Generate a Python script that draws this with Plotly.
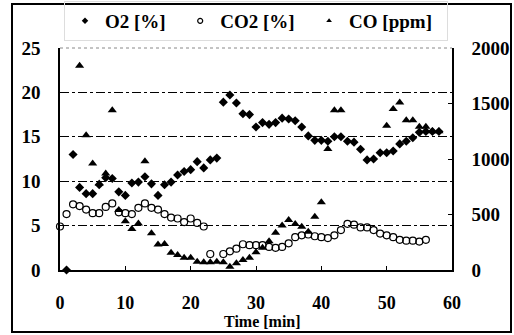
import plotly.graph_objects as go

# ---- data ----
o2_time = list(range(1, 59))
o2_vals = [0, 13, 9.3, 8.6, 8.6, 9.6, 10.4, 10.3, 8.8, 8.4,
           9.8, 9.9, 10.5, 9.7, 8.4, 9.6, 9.9, 10.7, 11.1, 11.3,
           12.2, 11.5, 12.4, 12.6, 18.9, 19.7, 18.8, 17.6, 17.5, 16.1,
           16.6, 16.4, 16.6, 17.1, 17.0, 16.8, 16.1, 15.1, 14.6, 14.6,
           14.5, 15.0, 15.0, 14.5, 14.4, 13.6, 12.4, 12.5, 13.2, 13.2,
           13.4, 14.2, 14.5, 14.9, 15.5, 15.6, 15.6, 15.6]

co2_time = list(range(0, 24)) + list(range(25, 57))
co2_vals = [4.9, 6.3, 7.4, 7.2, 6.8, 6.4, 6.4, 7.1, 7.5, 6.5,
            6.4, 6.3, 7.0, 7.5, 7.0, 6.8, 6.3, 5.9, 5.8, 5.4,
            5.8, 5.3, 4.9, 1.8,
            1.8, 2.1, 2.4, 2.9, 2.8, 2.8, 2.8, 2.6, 2.5, 2.6,
            3.0, 3.7, 3.9, 4.0, 3.8, 3.7, 3.6, 3.9, 4.5, 5.2,
            5.1, 4.8, 4.8, 4.5, 4.1, 3.9, 3.7, 3.4, 3.3, 3.3,
            3.2, 3.4]

co_time = list(range(3, 44)) + list(range(50, 59))
co_vals = [1840, 1215, 960, 780, 870, 1440, 540, 440, 370, 420,
           980, 330, 230, 235, 155, 135, 110, 110, 75, 70,
           70, 75, 70, 30, 60, 90, 110, 160, 200, 260,
           335, 400, 450, 415, 390, 345, 480, 610, 1090, 1440,
           1440,
           1300, 1450, 1510, 1350, 1350, 1290, 1290, 1250, 1250]

series_names = ["O2 [%]", "CO2 [%]", "CO [ppm]"]
x_ticks = [0, 10, 20, 30, 40, 50, 60]
y_left_ticks = [0, 5, 10, 15, 20, 25]
y_right_ticks = [0, 500, 1000, 1500, 2000]
x_title = "Time [min]"

FONT = "Liberation Serif"
NB = "\u00a0"

W, H = 514, 335
L, R, T, B = 60, 452, 48, 270


def px(x):
    return (x - L) / (R - L)


def py(y):
    return (B - y) / (B - T)


styles = [
    dict(symbol="diamond", color="black"),
    dict(symbol="circle-open", color="black", line=dict(width=1.2)),
    dict(symbol="triangle-up", color="black"),
]
sizes = [7, 7, 8]

fig = go.Figure()
fig.add_trace(go.Scatter(x=o2_time, y=o2_vals, mode="markers", showlegend=False,
                         marker=dict(size=sizes[0], **styles[0]), cliponaxis=False))
fig.add_trace(go.Scatter(x=co2_time, y=co2_vals, mode="markers", showlegend=False,
                         marker=dict(size=sizes[1], **styles[1]), cliponaxis=False))
fig.add_trace(go.Scatter(x=co_time, y=co_vals, mode="markers", showlegend=False, yaxis="y2",
                         marker=dict(size=sizes[2], **styles[2]), cliponaxis=False))
# legend entries with small symbols, as in the original
for name, st in zip(series_names, styles):
    fig.add_trace(go.Scatter(x=[None], y=[None], mode="markers",
                             name=f"<b>{name}</b>{NB * 2}",
                             marker=dict(size=5, **st)))

fig.update_layout(
    width=W, height=H,
    margin=dict(l=L, r=W - R, t=T, b=H - B, pad=0, autoexpand=False),
    paper_bgcolor="white", plot_bgcolor="white",
    font=dict(family=FONT, size=18, color="black"),
    showlegend=True,
    legend=dict(orientation="h", x=0.5, xanchor="center", y=py(21), yanchor="middle",
                font=dict(family=FONT, size=19, color="black"),
                bgcolor="rgba(0,0,0,0)", bordercolor="#dddddd", borderwidth=1,
                itemsizing="trace"),
    xaxis=dict(range=[0, 60], tickvals=x_ticks, ticktext=[f"<b>{v}</b>" for v in x_ticks],
               showgrid=False, zeroline=False, showline=True, linecolor="black", linewidth=1.5,
               ticks="inside", ticklen=4, tickcolor="black", ticklabelstandoff=16,
               tickfont=dict(family=FONT, size=18), automargin=False),
    yaxis=dict(range=[0, 25], tickvals=y_left_ticks, ticktext=[f"<b>{v}</b>" for v in y_left_ticks],
               showgrid=True, gridcolor="black", gridwidth=1, griddash="dashdot",
               zeroline=False, showline=True, linecolor="black", linewidth=1.5,
               ticks="inside", ticklen=4, tickcolor="black", ticklabelstandoff=14,
               tickfont=dict(family=FONT, size=19), automargin=False),
    yaxis2=dict(range=[0, 2000], tickvals=y_right_ticks, ticktext=[f"<b>{v}</b>" for v in y_right_ticks],
                overlaying="y", side="right", showgrid=False, zeroline=False,
                showline=True, linecolor="black", linewidth=1.5,
                ticks="inside", ticklen=4, tickcolor="black", ticklabelstandoff=14,
                tickfont=dict(family=FONT, size=19), automargin=False),
    annotations=[
        dict(text=f"<b>{x_title}</b>", xref="paper", yref="paper", x=px(262), y=py(321),
             xanchor="center", yanchor="middle", showarrow=False,
             font=dict(family=FONT, size=16, color="black")),
    ],
    shapes=[
        dict(type="line", xref="paper", yref="paper", x0=0, x1=1, y0=1, y1=1,
             line=dict(color="#888888", width=1, dash="dot")),
        dict(type="rect", xref="paper", yref="paper",
             x0=px(12), x1=px(511), y0=py(332), y1=py(4),
             line=dict(color="black", width=2)),
    ],
)

fig.write_html("out.html")
